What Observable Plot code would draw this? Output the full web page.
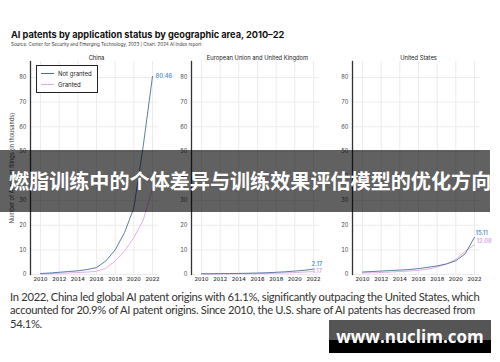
<!DOCTYPE html>
<html>
<head>
<meta charset="utf-8">
<script src="https://cdn.jsdelivr.net/npm/d3@7"></script>
<script src="https://cdn.jsdelivr.net/npm/@observablehq/plot@0.6"></script>
<style>
  html, body { margin: 0; padding: 0; background: #fff; }
  #root { position: relative; width: 500px; height: 362px; overflow: hidden; background: #fff; font-family: Lato, "Open Sans", sans-serif; }
  .abs { position: absolute; }
  #title { left: 11px; top: 29px; font: 700 9.2px Inter, Lato, sans-serif; color: #111; white-space: nowrap; }
  #source { left: 11px; top: 42px; font: 400 4.5px Inter, Lato, sans-serif; color: #333; white-space: nowrap; }
  .facet { top: 48px; width: 161px; height: 240px; }
  #legend { left: 36px; top: 65px; width: 60px; height: 26px; border: 1px solid #222; background: #fff; font: 400 6px Inter, Lato, sans-serif; color: #222; }
  .lg { position: absolute; left: 4px; display: flex; align-items: center; white-space: nowrap; }
  .lg span.sw { display: inline-block; width: 13px; height: 1.2px; margin-right: 4px; }
  #para { left: 10px; top: 290px; width: 486px; font: 400 11.2px Lato, sans-serif; letter-spacing: -0.3px; line-height: 13.4px; color: #333; }
  #banner { left: 0; top: 150px; width: 490px; height: 62px; background: rgba(0,0,0,0.62); color: #fff; font: 700 20.1px "Noto Sans CJK SC", sans-serif; line-height: 62px; white-space: nowrap; padding-left: 9px; box-sizing: border-box; overflow: hidden; }
  #wm { left: 329px; top: 320px; width: 162px; height: 33px; background: linear-gradient(#555 0%, #555 60%, #000 60%, #000 100%); color: #fff; font: 700 17px "Open Sans", sans-serif; line-height: 33px; text-align: center; white-space: nowrap; }
</style>
</head>
<body>
<div id="root">
  <div id="title" class="abs">AI patents by application status by geographic area, 2010–22</div>
  <div id="source" class="abs">Source: Center for Security and Emerging Technology, 2023 | Chart: 2024 AI Index report</div>
  <div id="f0" class="abs facet" style="left:0px"></div>
  <div id="f1" class="abs facet" style="left:161px"></div>
  <div id="f2" class="abs facet" style="left:322px"></div>
  <div id="legend" class="abs">
    <div class="lg" style="top:4px"><span class="sw" style="background:#4b6f99"></span>Not granted</div>
    <div class="lg" style="top:15px"><span class="sw" style="background:#e0a5ea"></span>Granted</div>
  </div>
  <div id="para" class="abs">In 2022, China led global AI patent origins with 61.1%, significantly outpacing the United States, which accounted for 20.9% of AI patent origins. Since 2010, the U.S. share of AI patents has decreased from 54.1%.</div>
  <div id="banner" class="abs">燃脂训练中的个体差异与训练效果评估模型的优化方向</div>
  <div id="wm" class="abs">www.nuclim.com</div>
</div>
<script>
// ---- data ----
const years = [2010, 2011, 2012, 2013, 2014, 2015, 2016, 2017, 2018, 2019, 2020, 2021, 2022];
const xTicks = [2010, 2012, 2014, 2016, 2018, 2020, 2022];
const yTicks = [0, 10, 20, 30, 40, 50, 60, 70, 80];
const facetNames = ["China", "European Union and United Kingdom", "United States"];
const seriesNames = ["Not granted", "Granted"];

const chinaNotGranted = [0.4, 0.6, 0.9, 1.2, 1.5, 2.0, 2.8, 5.5, 10.0, 17.0, 27.0, 52.0, 80.46];
const chinaGranted    = [0.2, 0.3, 0.5, 0.6, 0.8, 1.0, 1.3, 2.5, 5.5, 9.5, 15.0, 22.0, 35.0];
const euNotGranted    = [0.3, 0.3, 0.35, 0.4, 0.45, 0.5, 0.6, 0.7, 0.9, 1.1, 1.4, 1.7, 2.17];
const euGranted       = [0.2, 0.2, 0.25, 0.25, 0.3, 0.3, 0.35, 0.4, 0.5, 0.6, 0.8, 1.0, 1.17];
const usNotGranted    = [1.0, 1.2, 1.4, 1.6, 1.8, 2.0, 2.4, 2.9, 3.5, 4.3, 5.6, 8.4, 15.11];
const usGranted       = [0.6, 0.7, 0.8, 1.0, 1.2, 1.4, 1.7, 2.2, 3.0, 4.2, 6.2, 9.4, 12.08];
const endLabelsNotGranted = ["80.46", "2.17", "15.11"];
const endLabelsGranted    = [null, "1.17", "12.08"];

const seriesData = [[chinaNotGranted, chinaGranted], [euNotGranted, euGranted], [usNotGranted, usGranted]];
const colors = {"Not granted": "#4b6f99", "Granted": "#e0a5ea"};
const labelColors = {"Not granted": "#5b95d8", "Granted": "#d6a6f0"};
const labelDy = [[0, 0], [-5, 0], [-4, -4]];
const labelDx = [[3, 3], [-2, -1], [1, 2]];

function facetPlot(k) {
  const [ng, g] = seriesData[k];
  const rows = [];
  years.forEach((yr, i) => {
    rows.push({year: yr, v: ng[i], s: seriesNames[0]});
    rows.push({year: yr, v: g[i], s: seriesNames[1]});
  });
  const endNG = [{year: 2022, v: ng[ng.length - 1], t: endLabelsNotGranted[k]}].filter(d => d.t);
  const endG = [{year: 2022, v: g[g.length - 1], t: endLabelsGranted[k]}].filter(d => d.t);
  return Plot.plot({
    width: 161, height: 240,
    marginLeft: 30, marginRight: 0, marginTop: 13, marginBottom: 14,
    style: {fontSize: "5.6px", fontFamily: "Inter, Lato, sans-serif", color: "#444", background: "transparent", overflow: "visible"},
    x: {domain: [2010, 2022], range: [40, 152]},
    y: {domain: [0, 86.5]},
    marks: [
      Plot.gridX(xTicks, {stroke: "#ececec", strokeOpacity: 1}),
      Plot.ruleY(yTicks, {x1: 2008.9, x2: 2022.6, stroke: "#ececec"}),
      Plot.frame({anchor: "left", stroke: "#333", strokeWidth: 1.3}),
      Plot.axisY(yTicks, {
        tickSize: 0, tickPadding: 4,
        label: k === 0 ? "Number of AI patent filings (in thousands)" : null,
        labelAnchor: "center", labelArrow: "none", labelOffset: 20
      }),
      Plot.axisX(xTicks, {tickSize: 0, tickPadding: 3, tickFormat: d => String(d), label: null, fontSize: "5.4px", fontWeight: 600}),
      Plot.line(rows.filter(d => d.s === "Granted"), {x: "year", y: "v", stroke: colors["Granted"], strokeWidth: 0.9}),
      Plot.line(rows.filter(d => d.s === "Not granted"), {x: "year", y: "v", stroke: colors["Not granted"], strokeWidth: 0.9}),
      Plot.text(endNG, {x: "year", y: "v", text: "t", textAnchor: "start", dx: labelDx[k][0], dy: labelDy[k][0], fill: labelColors["Not granted"], fontWeight: 600, fontSize: "5.8px"}),
      Plot.text(endG, {x: "year", y: "v", text: "t", textAnchor: "start", dx: labelDx[k][1], dy: labelDy[k][1], fill: labelColors["Granted"], fontWeight: 600, fontSize: "5.8px"}),
      Plot.text([facetNames[k]], {x: () => 2016, frameAnchor: "top", dy: -6, fill: "#222", fontSize: "5.8px"})
    ]
  });
}

[0, 1, 2].forEach(k => document.getElementById("f" + k).appendChild(facetPlot(k)));
</script>
</body>
</html>
